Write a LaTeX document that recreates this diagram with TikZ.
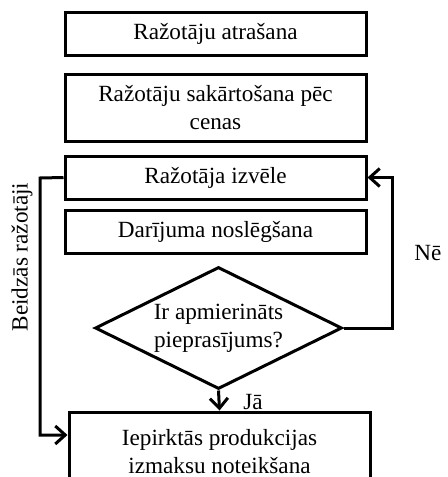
\documentclass[tikz,border=0pt]{standalone}
\usepackage{fontspec}
\setmainfont{Liberation Serif}
\usetikzlibrary{shapes.geometric,arrows.meta}

\begin{document}
\begin{tikzpicture}[x=0.5pt, y=-0.5pt, font=\fontsize{11.6}{14}\selectfont,
  stepbox/.style={shape=rectangle, draw=black, line width=1.5pt, minimum width=150.5pt, minimum height=21.5pt, align=center, inner sep=0pt},
  choice/.style={shape=diamond, aspect=2, draw=black, line width=1.5pt, minimum width=123.5pt, minimum height=61pt, align=center, inner sep=0pt},
  flow/.style={-{Straight Barb[length=5pt, width=9pt, line width=1.5pt]}, line width=1.5pt, draw=black}]
\clip (0,0) rectangle (448,477);
\useasboundingbox (0,0) rectangle (448,477);
\node[stepbox] (atrasana) at (215.5,33.5) {Ražotāju atrašana};
\node[stepbox, minimum height=33.5pt] (sakartosana) at (215.5,107.5) {Ražotāju sakārtošana pēc\\cenas};
\node[stepbox] (izvele) at (215.5,177.5) {Ražotāja izvēle};
\node[stepbox] (darijums) at (215.5,231.5) {Darījuma noslēgšana};
\node[choice] (apmierinats) at (218.5,328) {Ir apmierināts\\pieprasījums?};
\node[stepbox, minimum height=40pt] (izmaksas) at (219.5,452) {Iepirktās produkcijas\\izmaksu noteikšana};
\node (ne) at (428,253) {Nē};
\node (ja) at (253,402) {Jā};
\node[rotate=90] (beidzas) at (22,257) {Beidzās ražotāji};
\coordinate (kreisais) at (40,178);
\coordinate (apaksa) at (40,435);
\coordinate (labais) at (392,328);
\path [flow] (apmierinats.south) -- (izmaksas.north);
\path [flow] (apmierinats.east) -- (labais) |- (izvele.east);
\path [flow] (izvele.west) -- (kreisais) -- (apaksa) -- (apaksa -| izmaksas.west);
\end{tikzpicture}
\end{document}
